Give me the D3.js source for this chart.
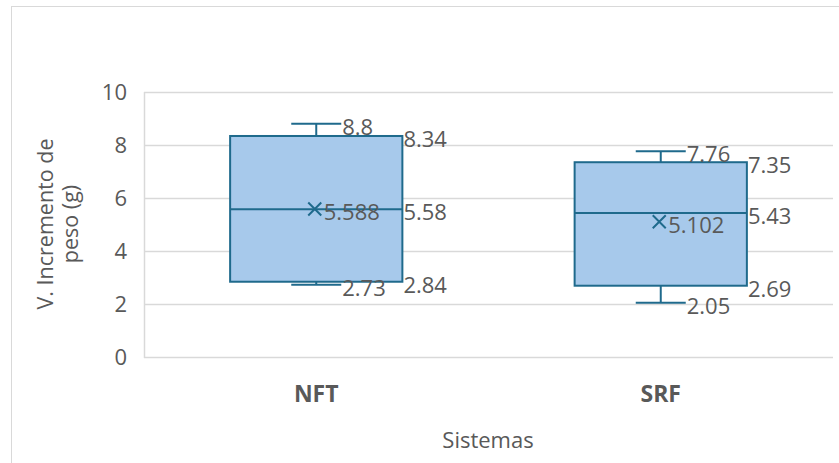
<!DOCTYPE html>
<html>
<head>
<meta charset="utf-8">
<script src="https://cdn.jsdelivr.net/npm/d3@7"></script>
<style>
  html, body { margin: 0; padding: 0; background: #fff; }
  svg { display: block; }
  text { font-family: "Open Sans", "Noto Sans", sans-serif; fill: #595959; }
</style>
</head>
<body>
<svg id="chart" width="839" height="463"></svg>
<script>
// ---- data ----
const categories = ["NFT", "SRF"];
const minValues    = [2.73, 2.05];
const q1Values     = [2.84, 2.69];
const medianValues = [5.58, 5.43];
const q3Values     = [8.34, 7.35];
const maxValues    = [8.8, 7.76];
const meanValues   = [5.588, 5.102];
const yTicks = [0, 2, 4, 6, 8, 10];
const yTitleLines = ["V. Incremento de", "peso (g)"];
const xTitle = "Sistemas";

const rows = categories.map((c, i) => ({
  cat: c, min: minValues[i], q1: q1Values[i], med: medianValues[i],
  q3: q3Values[i], max: maxValues[i], mean: meanValues[i]
}));

const svg = d3.select("#chart");
const W = 839, H = 463;
const plot = { left: 144, right: 833, top: 92, bottom: 357 };

const boxFill = "#A7C9EB";
const boxStroke = "#1F6A8C";
const grid = "#D9D9D9";

// outer frame
svg.append("rect").attr("x", 11.5).attr("y", 6.5)
  .attr("width", W + 20).attr("height", H + 20)
  .attr("fill", "none").attr("stroke", "#D9D9D9").attr("stroke-width", 1);

const x = d3.scaleBand().domain(categories).range([plot.left, plot.right]).paddingInner(0).paddingOuter(0);
const y = d3.scaleLinear().domain([0, 10]).range([plot.bottom, plot.top]);

// gridlines
svg.append("g").selectAll("line").data(yTicks).join("line")
  .attr("x1", plot.left).attr("x2", plot.right)
  .attr("y1", d => Math.round(y(d)) + 0.5).attr("y2", d => Math.round(y(d)) + 0.5)
  .attr("stroke", grid).attr("stroke-width", 1.5);
// left axis line
svg.append("line").attr("x1", plot.left + 0.5).attr("x2", plot.left + 0.5)
  .attr("y1", plot.top).attr("y2", plot.bottom + 1)
  .attr("stroke", grid).attr("stroke-width", 1.5);

// y tick labels via axis
const yAxis = d3.axisLeft(y).tickValues(yTicks).tickSize(0).tickPadding(0).tickFormat(d3.format("d"));
const yg = svg.append("g").attr("transform", `translate(${plot.left - 17},0)`).call(yAxis);
yg.select(".domain").remove();
yg.selectAll("text").attr("font-size", 22).style("fill", "#595959")
  .attr("font-family", "'Open Sans', sans-serif").attr("dy", "0.36em");

// x category labels via axis
const xAxis = d3.axisBottom(x).tickSize(0).tickPadding(0);
const xg = svg.append("g").attr("transform", `translate(0,402)`).call(xAxis);
xg.select(".domain").remove();
xg.selectAll("text").attr("font-size", 23).attr("font-weight", "bold").style("fill", "#595959")
  .attr("font-family", "'Open Sans', sans-serif").attr("y", 0).attr("dy", "0");

// axis titles
const yt = svg.append("text").attr("transform", "translate(53,224) rotate(-90)")
  .attr("text-anchor", "middle").attr("font-size", 21.5);
yTitleLines.forEach((l, i) => {
  yt.append("tspan").attr("x", 0).attr("dy", i === 0 ? 0 : 25).text(l);
});
svg.append("text").attr("x", 488).attr("y", 448).attr("text-anchor", "middle")
  .attr("font-size", 22).text(xTitle);

// boxes
const boxW = x.bandwidth() * 0.5;
const capW = 50;
const g = svg.append("g");
rows.forEach(r => {
  const cx = x(r.cat) + x.bandwidth() / 2;
  const x0 = cx - boxW / 2, x1 = cx + boxW / 2;
  // whiskers
  g.append("line").attr("x1", cx).attr("x2", cx).attr("y1", y(r.max)).attr("y2", y(r.q3))
    .attr("stroke", boxStroke).attr("stroke-width", 2);
  g.append("line").attr("x1", cx).attr("x2", cx).attr("y1", y(r.q1)).attr("y2", y(r.min))
    .attr("stroke", boxStroke).attr("stroke-width", 2);
  g.append("line").attr("x1", cx - capW / 2).attr("x2", cx + capW / 2).attr("y1", y(r.max)).attr("y2", y(r.max))
    .attr("stroke", boxStroke).attr("stroke-width", 2);
  g.append("line").attr("x1", cx - capW / 2).attr("x2", cx + capW / 2).attr("y1", y(r.min)).attr("y2", y(r.min))
    .attr("stroke", boxStroke).attr("stroke-width", 2);
  // box
  g.append("rect").attr("x", x0).attr("y", y(r.q3)).attr("width", boxW).attr("height", y(r.q1) - y(r.q3))
    .attr("fill", boxFill).attr("stroke", boxStroke).attr("stroke-width", 2);
  // median
  g.append("line").attr("x1", x0).attr("x2", x1).attr("y1", y(r.med)).attr("y2", y(r.med))
    .attr("stroke", boxStroke).attr("stroke-width", 2);
  // mean marker X
  const mx = cx - 1.5, my = y(r.mean), s = 6.5;
  g.append("path").attr("d", `M${mx - s},${my - s}L${mx + s},${my + s}M${mx - s},${my + s}L${mx + s},${my - s}`)
    .attr("stroke", boxStroke).attr("stroke-width", 2).attr("fill", "none");

  // labels
  const lab = (lx, v, txt) => g.append("text").attr("x", lx).attr("y", y(v) + 3)
    .attr("dy", "0.36em").attr("font-size", 22).text(txt);
  lab(cx + capW / 2 + 1, r.max, r.max);
  lab(cx + capW / 2 + 1, r.min, r.min);
  lab(x1 + 1, r.q3, r.q3);
  lab(x1 + 1, r.med, r.med);
  lab(x1 + 1, r.q1, r.q1);
  lab(mx + 9, r.mean, r.mean);
});
</script>
</body>
</html>
